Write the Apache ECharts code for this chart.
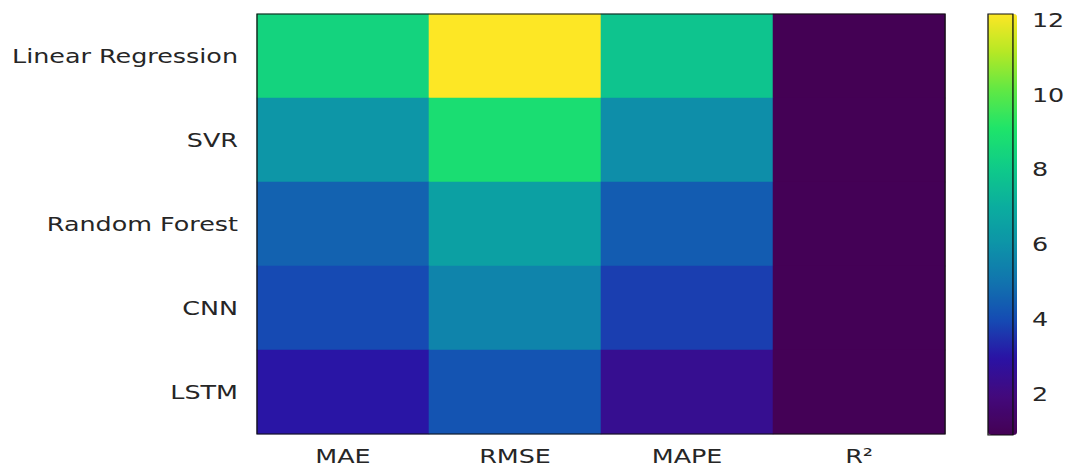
<!DOCTYPE html>
<html><head><meta charset="utf-8">
<script src="https://cdn.jsdelivr.net/npm/echarts@6/dist/echarts.min.js"></script>
<style>
html,body{margin:0;padding:0;background:#fff;overflow:hidden}
#c{height:466px;transform-origin:0 0}
</style>
</head><body><div id="c"></div>
<script>
// ---- data ----
const models = ['Linear Regression', 'SVR', 'Random Forest', 'CNN', 'LSTM'];
const metrics = ['MAE', 'RMSE', 'MAPE', 'R²'];
const maeValues  = [8.4, 6.1, 4.55, 3.95, 3.0];
const rmseValues = [12.15, 8.8, 6.5, 5.5, 4.2];
const mapeValues = [7.8, 5.83, 4.4, 3.74, 2.45];
const r2Values   = [0.91, 0.93, 0.95, 0.96, 0.97];
const colorbarTicks = [2, 4, 6, 8, 10, 12];
const colorStops = ['#440154', '#43097c', '#2a12a4', '#154bb3', '#1174ae', '#0d94a8',
                    '#0bae9e', '#0fcb88', '#1ee46a', '#5fe845', '#b5e825', '#fde725'];

// ---- layout (screen px, horizontal stretch applied by CSS) ----
const S = 1.27;
const el = document.getElementById('c');
el.style.width = (1068 / S) + 'px';
el.style.transform = 'scaleX(' + S + ')';
const X = v => v / S;

const columns = [maeValues, rmseValues, mapeValues, r2Values];
const data = [];
models.forEach((m, i) => columns.forEach((col, j) => data.push([j, i, col[i]])));
const all = columns.flat();
const vmin = Math.min(...all), vmax = Math.max(...all);

const font = 'DejaVu Sans';
const txt = '#262626';

const chart = echarts.init(el, null, { renderer: 'svg' });
chart.setOption({
  animation: false,
  backgroundColor: '#fff',
  grid: [
    { left: X(257), right: X(1068 - 945), top: 14, bottom: 31, show: true, z: 10,
      backgroundColor: 'transparent', borderColor: '#111', borderWidth: 1 },
    { left: X(988), width: X(29), top: 14, height: 421, show: true, z: 10,
      backgroundColor: 'transparent', borderColor: '#111', borderWidth: 1 }
  ],
  xAxis: [
    { type: 'category', data: metrics, gridIndex: 0,
      axisLine: { show: false }, splitLine: { show: false },
      axisTick: { alignWithLabel: true, length: 7, lineStyle: { color: '#222' } },
      axisLabel: { margin: 14, lineHeight: 16, fontFamily: font, fontSize: 20, color: txt } },
    { type: 'value', gridIndex: 1, show: false }
  ],
  yAxis: [
    { type: 'category', data: models, inverse: true, gridIndex: 0,
      axisLine: { show: false }, splitLine: { show: false },
      axisTick: { alignWithLabel: true, length: X(8), lineStyle: { color: '#222' } },
      axisLabel: { margin: X(19), fontFamily: font, fontSize: 20, color: txt } },
    { type: 'value', gridIndex: 1, position: 'right', min: vmin, max: vmax,
      axisLine: { show: false }, splitLine: { show: false },
      axisTick: { show: true, length: X(8), customValues: colorbarTicks, lineStyle: { color: '#222' } },
      axisLabel: { margin: X(19), fontFamily: font, fontSize: 20, color: txt, customValues: colorbarTicks } }
  ],
  visualMap: {
    type: 'continuous', seriesIndex: 0, min: vmin, max: vmax,
    calculable: false, orient: 'vertical', left: X(988), top: 14,
    itemWidth: X(29), itemHeight: 421, padding: 0, text: null,
    inRange: { color: colorStops }
  },
  series: [{
    type: 'heatmap', xAxisIndex: 0, yAxisIndex: 0, data: data,
    itemStyle: { borderWidth: 0 },
    emphasis: { disabled: true }
  }]
});
</script>
</body></html>
